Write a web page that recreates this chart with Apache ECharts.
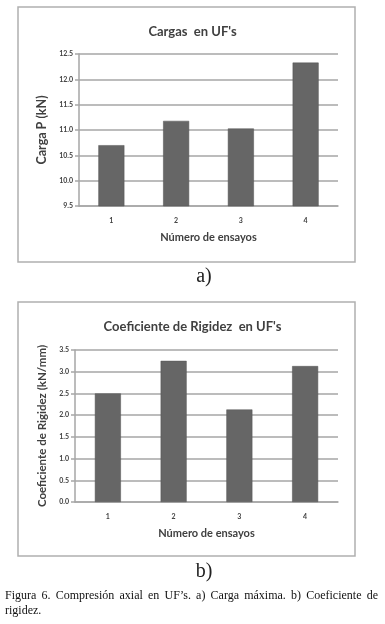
<!DOCTYPE html>
<html>
<head>
<meta charset="utf-8">
<script src="https://cdn.jsdelivr.net/npm/echarts@6/dist/echarts.min.js"></script>
<style>
  html, body { margin: 0; padding: 0; background: #fff; }
  #chart { width: 385px; height: 624px; position: relative; }
  .caption {
    position: absolute; left: 5px; top: 588px; width: 373px;
    font-family: "Liberation Serif", serif; font-size: 12px; line-height: 15px;
    color: #111; text-align: justify;
  }
</style>
</head>
<body>
<div id="chart"></div>
<div class="caption">Figura 6. Compresión axial en UF’s. a) Carga máxima. b) Coeficiente de rigidez.</div>
<script>
// ensayos
var ensayos = ['1', '2', '3', '4'];
// carga maxima (kN)
var cargas = [10.7, 11.18, 11.03, 12.33];
// coeficiente de rigidez (kN/mm)
var rigidez = [2.5, 3.25, 2.13, 3.13];

var txt = '#404040';
var font = 'Lato';

function xAxisOf(idx) {
  return {
    type: 'category', gridIndex: idx, data: ensayos,
    name: 'Número de ensayos', nameLocation: 'middle', nameGap: 26,
    nameTextStyle: { color: txt, fontWeight: 'bold', fontSize: 11, fontFamily: font },
    axisLine: { lineStyle: { color: '#a6a6a6', width: 1.5 } },
    axisTick: { show: false },
    axisLabel: { color: txt, fontSize: 7, fontWeight: 'bold', fontFamily: font, margin: 11 }
  };
}
function yAxisOf(idx, min, max, name, size, gap) {
  return {
    type: 'value', gridIndex: idx, min: min, max: max, interval: 0.5,
    name: name, nameLocation: 'middle', nameGap: gap,
    nameTextStyle: { color: txt, fontWeight: 'bold', fontSize: size, fontFamily: font },
    axisLine: { show: true, lineStyle: { color: '#a6a6a6', width: 1.5 } },
    axisTick: { show: true, length: 4, lineStyle: { color: '#a6a6a6', width: 1.5 } },
    splitLine: { lineStyle: { color: '#a6a6a6', width: 1.5 } },
    axisLabel: {
      color: txt, fontSize: 7, fontWeight: 'bold', fontFamily: font, margin: 6,
      formatter: function (v) { return v.toFixed(1); }
    }
  };
}
function barOf(idx, data) {
  return {
    type: 'bar', xAxisIndex: idx, yAxisIndex: idx, data: data,
    barWidth: 26,
    itemStyle: { color: '#666666', borderColor: '#555555', borderWidth: 0.5 },
    silent: true
  };
}

var chart = echarts.init(document.getElementById('chart'));
chart.setOption({
  animation: false,
  title: [
    { text: "Cargas  en UF's", left: 'center', top: 20, textStyle: { color: txt, fontSize: 13, fontWeight: 'bold', fontFamily: font } },
    { text: "Coeficiente de Rigidez  en UF's", left: 'center', top: 315, textStyle: { color: txt, fontSize: 13, fontWeight: 'bold', fontFamily: font } }
  ],
  grid: [
    { left: 79, right: 47, top: 54, height: 152 },
    { left: 75, right: 47, top: 350, height: 152 }
  ],
  xAxis: [xAxisOf(0), xAxisOf(1)],
  yAxis: [
    yAxisOf(0, 9.5, 12.5, 'Carga P (kN)', 12.5, 29),
    yAxisOf(1, 0, 3.5, 'Coeficiente de Rigidez (kN/mm)', 11.5, 26)
  ],
  series: [barOf(0, cargas), barOf(1, rigidez)],
  graphic: [
    { type: 'rect', shape: { x: 18, y: 7, width: 337, height: 255 }, style: { fill: 'none', stroke: '#b0b0b0', lineWidth: 1.5 }, z: -1 },
    { type: 'rect', shape: { x: 18, y: 302, width: 337, height: 254 }, style: { fill: 'none', stroke: '#b0b0b0', lineWidth: 1.5 }, z: -1 },
    { type: 'text', x: 204, y: 277, style: { text: 'a)', fontSize: 20, fontFamily: 'Liberation Serif', fill: '#222', align: 'center', verticalAlign: 'middle' } },
    { type: 'text', x: 204, y: 572, style: { text: 'b)', fontSize: 20, fontFamily: 'Liberation Serif', fill: '#222', align: 'center', verticalAlign: 'middle' } }
  ]
});
</script>
</body>
</html>
